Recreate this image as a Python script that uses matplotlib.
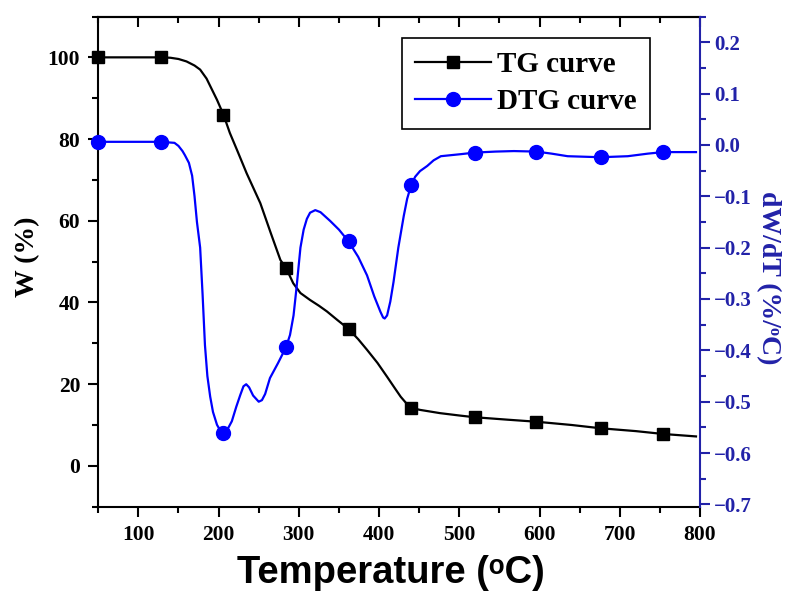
import matplotlib
matplotlib.use("Agg")
import matplotlib.pyplot as plt
from matplotlib.ticker import MultipleLocator, FuncFormatter

# ---------------- data ----------------
tg_temp = [50, 100, 128, 140, 150, 160, 170, 177, 185, 192, 198, 206, 214, 223, 235, 252,
           265, 277, 284, 288, 293, 302, 314, 325, 335, 348, 362, 374, 385, 398, 410, 420,
           427, 434, 440, 451, 476, 501, 519, 560, 596, 640, 676, 720, 754, 795]
tg_w = [100, 100, 100, 99.9, 99.6, 99.0, 98.0, 97.0, 94.8, 92.0, 89.6, 86.0, 81.5, 77.3,
        71.6, 64.3, 57.0, 50.4, 48.4, 46.8, 44.7, 42.3, 40.6, 39.2, 37.8, 35.7, 33.5, 31.0,
        28.4, 25.2, 21.8, 18.9, 16.9, 15.3, 14.2, 13.7, 12.9, 12.3, 11.9, 11.3, 10.8, 10.0,
        9.2, 8.5, 7.8, 7.2]

dtg_temp = [50, 100, 128, 145, 150, 155, 158, 163, 167, 170, 173, 177, 180, 183, 186, 189.5,
            193, 198, 202, 206, 210, 216.5, 222, 227, 231, 234.4, 238, 243, 250, 254, 258,
            264, 274, 284, 289, 293.4, 297, 302, 306, 310, 314, 320.5, 327, 339, 350, 362,
            374, 385, 394, 401.7, 405, 407, 410, 414, 418, 424, 430.8, 435, 440, 445, 451,
            460, 468, 477, 502, 519, 545, 568, 596, 615, 635, 676, 710, 735, 754, 795]
dtg_d = [0.006, 0.006, 0.006, 0.004, -0.002, -0.012, -0.02, -0.035, -0.06, -0.10, -0.15,
         -0.20, -0.29, -0.39, -0.45, -0.49, -0.52, -0.545, -0.556, -0.561, -0.557, -0.538,
         -0.51, -0.487, -0.47, -0.466, -0.472, -0.488, -0.500, -0.497, -0.485, -0.454,
         -0.425, -0.394, -0.37, -0.332, -0.28, -0.20, -0.165, -0.144, -0.132, -0.127, -0.131,
         -0.148, -0.165, -0.188, -0.218, -0.254, -0.295, -0.325, -0.336, -0.338, -0.332,
         -0.305, -0.267, -0.20, -0.138, -0.105, -0.078, -0.062, -0.051, -0.041, -0.030,
         -0.022, -0.018, -0.015, -0.013, -0.012, -0.013, -0.017, -0.022, -0.024, -0.022,
         -0.017, -0.014, -0.014]

marker_temp = [50, 128, 206, 284, 362, 440, 519, 596, 676, 754]

x_ticks = [100, 200, 300, 400, 500, 600, 700, 800]
w_ticks = [0, 20, 40, 60, 80, 100]
d_ticks = [0.2, 0.1, 0.0, -0.1, -0.2, -0.3, -0.4, -0.5, -0.6, -0.7]

# ---------------- style ----------------
SERIF = ['Liberation Serif', 'DejaVu Serif', 'DejaVu Sans']
SANS = ['Liberation Sans', 'DejaVu Sans']
AXBLUE = '#2222a8'
LINEBLUE = '#0000ff'

fig = plt.figure(figsize=(7.86, 5.98), dpi=100)
ax = fig.add_axes([0.125, 0.1527, 0.7656, 0.8197])
ax2 = ax.twinx()

tg_idx = [tg_temp.index(t) for t in marker_temp]
dtg_idx = [dtg_temp.index(t) for t in marker_temp]

l1, = ax.plot(tg_temp, tg_w, color='black', lw=1.6, marker='s', markersize=9,
              markevery=tg_idx, label='TG curve', clip_on=False, zorder=3)
l2, = ax2.plot(dtg_temp, dtg_d, color=LINEBLUE, lw=1.6, marker='o', markersize=10,
               markevery=dtg_idx, label='DTG curve', clip_on=False, zorder=3)

ax.set_xlim(50, 800)
ax.set_ylim(-10, 110)
ax2.set_ylim(-0.7044, 0.25)

ax.set_xticks(x_ticks)
ax.xaxis.set_minor_locator(MultipleLocator(50))
ax.set_yticks(w_ticks)
ax.yaxis.set_minor_locator(MultipleLocator(10))
ax2.set_yticks(d_ticks)
ax2.yaxis.set_minor_locator(MultipleLocator(0.05))
ax2.yaxis.set_major_formatter(FuncFormatter(
    lambda v, p: ('%.1f' % v).replace('-', '\u2212') if abs(v) > 1e-9 else '0.0'))

for a in (ax, ax2):
    for s in a.spines.values():
        s.set_linewidth(1.5)
ax.spines['right'].set_visible(False)
ax2.spines['left'].set_visible(False)
ax2.spines['bottom'].set_visible(False)
ax2.spines['top'].set_visible(False)
ax2.spines['right'].set_color(AXBLUE)

ax.tick_params(axis='both', which='major', direction='out', length=7, width=1.5,
               labelsize=15.5, pad=6)
ax.tick_params(axis='both', which='minor', direction='out', length=4, width=1.5)
ax2.tick_params(axis='y', which='major', direction='out', length=7, width=1.5,
                labelsize=15, colors=AXBLUE, pad=3)
ax2.tick_params(axis='y', which='minor', direction='out', length=4, width=1.5,
                colors=AXBLUE)
for lab in ax.get_xticklabels() + ax.get_yticklabels() + ax2.get_yticklabels():
    lab.set_family(SERIF)
    lab.set_fontweight('bold')

sec = ax.secondary_xaxis('top')
sec.set_xticks(x_ticks)
sec.xaxis.set_minor_locator(MultipleLocator(50))
sec.tick_params(which='major', direction='in', length=7, width=1.5, labeltop=False)
sec.tick_params(which='minor', direction='in', length=4, width=1.5)
sec.spines['top'].set_linewidth(1.5)

ax.set_xlabel('Temperature (\u1d52C)', family=SANS, fontsize=27.5,
              fontweight='bold')
ax.xaxis.label.set_va('center')
ax.xaxis.set_label_coords(0.487, -0.135)

ax.set_ylabel('W (%)', family=SERIF, fontsize=20, fontweight='bold')
ax.yaxis.label.set_va('center')
ax.yaxis.set_label_coords(-0.117, 0.51)

ax2.set_ylabel('dW/dT (%/\u1d52C)', family=SERIF, fontsize=20,
               fontweight='bold', color=AXBLUE, rotation=270)
ax2.yaxis.label.set_va('center')
ax2.yaxis.set_label_coords(1.113, 0.467)

leg = ax.legend(handles=[l1, l2], loc='upper right', bbox_to_anchor=(0.917, 0.956),
                prop={'family': SERIF, 'weight': 'bold', 'size': 21},
                frameon=True, fancybox=False, edgecolor='black', framealpha=1,
                handlelength=2.6, handletextpad=0.2, labelspacing=0.33,
                borderpad=0.46, borderaxespad=0)
leg.get_frame().set_linewidth(1.2)
leg.set_zorder(10)

fig.savefig('out.png', dpi=100)
